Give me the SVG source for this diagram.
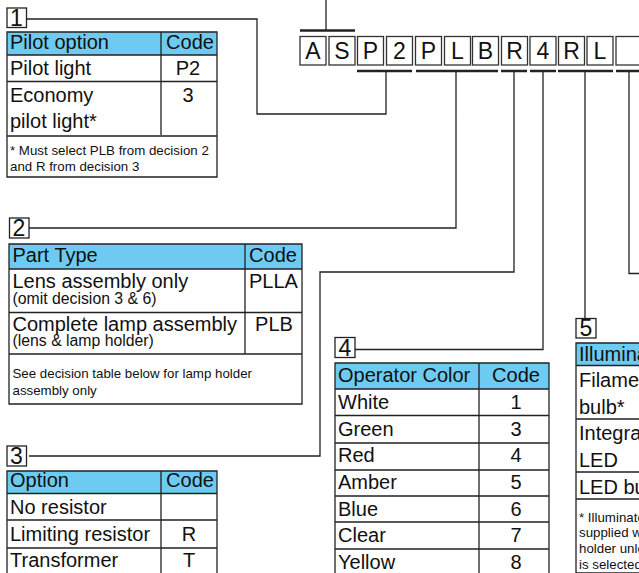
<svg xmlns="http://www.w3.org/2000/svg" width="639" height="573" viewBox="0 0 639 573">
<style>
text{font-family:"Liberation Sans",Arial,sans-serif;fill:#111}
.t{font-size:20px}.c{font-size:20px;text-anchor:middle}.n{font-size:13.300px}.s{font-size:15.800px}
.d{font-size:23px;text-anchor:middle}
.h{fill:#6dcaf0;stroke:none}
.l{fill:none;stroke:#222;stroke-width:1.3}
.b{fill:#fff;stroke:#222;stroke-width:1.3}
.bar{fill:none;stroke:#222;stroke-width:2.6}
.k{fill:#fff;stroke:#333;stroke-width:1.3}
</style>
<g id="connectors">
<path class="l" d="M326 0V30M27 19H257V114H386V71M29 228H456V71M29 456H320V272H514V71M355 349.500H543V71M585 71V318M629 71V273.500H639"/>
<path class="bar" d="M300 30.500H355M357 71H412M416 71H498M501 71H527M530 71H556M558 71H613M616 71H639"/>
</g>
<g id="code">
<g><rect class="k" x="300" y="36.500" width="26" height="28.500"/><text class="d" x="313" y="59">A</text></g>
<g><rect class="k" x="329" y="36.500" width="26" height="28.500"/><text class="d" x="342" y="59">S</text></g>
<g><rect class="k" x="357.500" y="36.500" width="26" height="28.500"/><text class="d" x="370.500" y="59">P</text></g>
<g><rect class="k" x="386.500" y="36.500" width="26" height="28.500"/><text class="d" x="399.500" y="59">2</text></g>
<g><rect class="k" x="415.500" y="36.500" width="26" height="28.500"/><text class="d" x="428.500" y="59">P</text></g>
<g><rect class="k" x="444.500" y="36.500" width="26" height="28.500"/><text class="d" x="457.500" y="59">L</text></g>
<g><rect class="k" x="472.500" y="36.500" width="26" height="28.500"/><text class="d" x="485.500" y="59">B</text></g>
<g><rect class="k" x="501.500" y="36.500" width="26" height="28.500"/><text class="d" x="514.500" y="59">R</text></g>
<g><rect class="k" x="530" y="36.500" width="26" height="28.500"/><text class="d" x="543" y="59">4</text></g>
<g><rect class="k" x="558.500" y="36.500" width="26" height="28.500"/><text class="d" x="571.500" y="59">R</text></g>
<g><rect class="k" x="587" y="36.500" width="26" height="28.500"/><text class="d" x="600" y="59">L</text></g>
<rect class="k" x="616" y="36.500" width="30" height="28.500"/>
</g>
<g id="table1">
<rect class="b" x="7" y="8" width="19.500" height="19.500"/><text class="d" x="16.500" y="26">1</text>
<rect class="h" x="7" y="32" width="210" height="23"/>
<path class="l" d="M7 32H217V177H7ZM7 55H217M7 81.500H217M7 136H217M161 32V135"/>
<text class="t" x="10" y="49">Pilot option</text><text class="c" x="190" y="49">Code</text>
<text class="t" x="10" y="75">Pilot light</text><text class="c" x="188" y="75">P2</text>
<text class="t" x="10" y="102">Economy</text><text class="c" x="188" y="102">3</text>
<text class="t" x="10" y="128">pilot light*</text>
<text class="n" x="10" y="155">* Must select PLB from decision 2</text>
<text class="n" x="10" y="171">and R from decision 3</text>
</g>
<g id="table2">
<rect class="b" x="9.500" y="218" width="19.500" height="20"/><text class="d" x="19" y="236">2</text>
<rect class="h" x="9" y="244" width="293" height="25"/>
<path class="l" d="M9 244H302V404H9ZM9 269H302M9 312.500H302M9 354H302M245 244V354"/>
<text class="t" x="12.500" y="261.500">Part Type</text><text class="c" x="273" y="261.500">Code</text>
<text class="t" x="12.500" y="288">Lens assembly only</text><text class="c" x="273.500" y="288">PLLA</text>
<text class="s" x="12.500" y="304">(omit decision 3 &amp; 6)</text>
<text class="t" x="12.500" y="331">Complete lamp assembly</text><text class="c" x="274" y="331">PLB</text>
<text class="s" x="12.500" y="346">(lens &amp; lamp holder)</text>
<text class="n" x="12.500" y="378">See decision table below for lamp holder</text>
<text class="n" x="12.500" y="395">assembly only</text>
</g>
<g id="table3">
<rect class="b" x="7" y="446" width="19.500" height="20"/><text class="d" x="16.500" y="464">3</text>
<rect class="h" x="7" y="471" width="210" height="22.500"/>
<path class="l" d="M7 573V471H217V573M7 493.500H217M7 520H217M7 548H217M161 471V573"/>
<text class="t" x="10" y="487">Option</text><text class="c" x="190" y="487">Code</text>
<text class="t" x="10" y="514">No resistor</text>
<text class="t" x="10" y="540.500">Limiting resistor</text><text class="c" x="189" y="540.500">R</text>
<text class="t" x="10" y="567">Transformer</text><text class="c" x="189" y="567">T</text>
</g>
<g id="table4">
<rect class="b" x="335" y="337.500" width="20" height="20"/><text class="d" x="345" y="355.500">4</text>
<rect class="h" x="335" y="363" width="214" height="26"/>
<path class="l" d="M335 573V363H549V573M335 389H549M335 415.500H549M335 443H549M335 470H549M335 496H549M335 522H549M335 549H549M479 363V573"/>
<text class="t" x="338" y="382">Operator Color</text><text class="c" x="516" y="382">Code</text>
<text class="t" x="338" y="409">White</text><text class="c" x="516" y="409">1</text>
<text class="t" x="338" y="436">Green</text><text class="c" x="516" y="436">3</text>
<text class="t" x="338" y="462">Red</text><text class="c" x="516" y="462">4</text>
<text class="t" x="338" y="489">Amber</text><text class="c" x="516" y="489">5</text>
<text class="t" x="338" y="516">Blue</text><text class="c" x="516" y="516">6</text>
<text class="t" x="338" y="542">Clear</text><text class="c" x="516" y="542">7</text>
<text class="t" x="338" y="569">Yellow</text><text class="c" x="516" y="569">8</text>
</g>
<g id="table5">
<rect class="b" x="576" y="318.500" width="20" height="19.500"/><text class="d" x="586" y="336">5</text>
<rect class="h" x="576" y="343" width="63" height="22.500"/>
<path class="l" d="M639 343H576V573H639M576 365.500H639M576 419H639M576 472H639M576 499H639"/>
<text class="t" x="579" y="361">Illumination</text>
<text class="t" x="579" y="387">Filament</text>
<text class="t" x="579" y="414">bulb*</text>
<text class="t" x="579" y="440">Integral</text>
<text class="t" x="579" y="467">LED</text>
<text class="t" x="579" y="494">LED bulb</text>
<text class="n" x="579" y="521.500">* Illuminated</text>
<text class="n" x="579" y="537">supplied with</text>
<text class="n" x="579" y="553">holder unless</text>
<text class="n" x="579" y="568.500">is selected</text>
</g>
</svg>
